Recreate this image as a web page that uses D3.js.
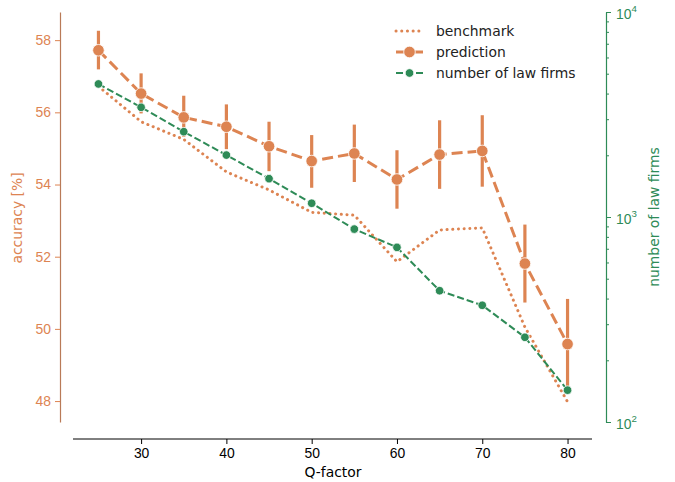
<!DOCTYPE html>
<html lang="en">
<head>
<meta charset="UTF-8">
<title>Accuracy vs Q-factor</title>
<script src="https://d3js.org/d3.v7.min.js"></script>
<style>
  body { margin: 0; background: #fff; }
  svg { font-family: 'DejaVu Sans', sans-serif; }
  .axis text { font-size: 13.9px; }
</style>
</head>
<body>
<script>
const qFactor = [25, 30, 35, 40, 45, 50, 55, 60, 65, 70, 75, 80];
const benchmark = [56.72, 55.74, 55.25, 54.35, 53.85, 53.23, 53.15, 51.86, 52.74, 52.80, 50.05, 47.98];
const prediction = [57.72, 56.52, 55.86, 55.60, 55.06, 54.65, 54.86, 54.14, 54.83, 54.93, 51.81, 49.58];
const predLow = [57.19, 55.97, 55.32, 54.98, 54.37, 53.91, 54.07, 53.33, 53.88, 53.94, 50.73, 48.35];
const predHigh = [58.26, 57.08, 56.46, 56.22, 55.74, 55.37, 55.66, 54.95, 55.78, 55.92, 52.89, 50.83];
const lawFirms = [4457, 3428, 2607, 2005, 1538, 1167, 873, 711, 437, 371, 259, 143];
const xTicks = [30, 40, 50, 60, 70, 80];
const yTicks = [48, 50, 52, 54, 56, 58];

const orange = "#dd8452";
const green = "#2e8b57";

const W = 675, H = 482;
const svg = d3.select("body").append("svg").attr("width", W).attr("height", H);

const x = d3.scaleLinear().domain([22.25, 82.75]).range([75, 591]);
const yL = d3.scaleLinear().domain([47.42, 58.78]).range([422, 12]);
const yR = d3.scaleLog().domain([100, 10000]).range([422, 12]);

// x axis (offset below the plot)
const xAxis = svg.append("g").attr("class", "axis")
    .attr("transform", "translate(0,439)")
    .call(d3.axisBottom(x).tickValues(xTicks).tickSize(5).tickSizeOuter(0).tickPadding(4));
xAxis.select(".domain").attr("d", "M73,0H592").attr("stroke", "#000");
xAxis.selectAll("text").attr("fill", "#000");

svg.append("text").attr("x", 333).attr("y", 477).attr("text-anchor", "middle")
    .attr("font-size", 13.9).attr("fill", "#000").text("Q-factor");

// left axis
const leftAxis = svg.append("g").attr("class", "axis")
    .attr("transform", "translate(60,0)")
    .call(d3.axisLeft(yL).tickValues(yTicks).tickSize(5).tickSizeOuter(0).tickPadding(4));
leftAxis.select(".domain").attr("stroke", "#b97a57").attr("stroke-width", 1.2);
leftAxis.selectAll(".tick line").attr("stroke", orange);
leftAxis.selectAll("text").attr("fill", orange);

svg.append("text").attr("transform", "translate(22,218) rotate(-90)")
    .attr("text-anchor", "middle").attr("font-size", 13.9).attr("fill", orange)
    .text("accuracy [%]");

// right axis (log)
const minor = [];
[100, 1000].forEach(b => { for (let k = 2; k <= 9; k++) minor.push(b * k); });
const rightAxis = svg.append("g").attr("class", "axis")
    .attr("transform", "translate(606,0)")
    .call(d3.axisRight(yR).tickValues([100, 1000, 10000].concat(minor)).tickSize(5).tickSizeOuter(0).tickPadding(4).tickFormat(""));
rightAxis.select(".domain").attr("stroke", green).attr("stroke-width", 1.2);
rightAxis.selectAll(".tick line").attr("stroke", green)
    .attr("x2", d => [100, 1000, 10000].includes(d) ? 5 : 3);
rightAxis.selectAll(".tick").filter(d => [100, 1000, 10000].includes(d))
    .append("text")
    .attr("x", 10).attr("dy", "0.45em").attr("fill", green).attr("text-anchor", "start")
    .each(function(d) {
      const t = d3.select(this);
      t.append("tspan").text("10");
      t.append("tspan").attr("font-size", 9.7).attr("dy", -7).text(Math.round(Math.log10(d)));
    });

svg.append("text").attr("transform", "translate(659,217) rotate(-90)")
    .attr("text-anchor", "middle").attr("font-size", 13.9).attr("fill", green)
    .text("number of law firms");

const pts = qFactor.map((q, i) => ({ q, b: benchmark[i], p: prediction[i], lo: predLow[i], hi: predHigh[i], n: lawFirms[i] }));

// benchmark
svg.append("path").datum(pts)
    .attr("d", d3.line().x(d => x(d.q)).y(d => yL(d.b)))
    .attr("fill", "none").attr("stroke", orange).attr("stroke-width", 3)
    .attr("stroke-dasharray", "0.1 5.6").attr("stroke-linecap", "round");

// prediction error bars
svg.selectAll(".err").data(pts).enter().append("line")
    .attr("x1", d => x(d.q)).attr("x2", d => x(d.q))
    .attr("y1", d => yL(d.lo)).attr("y2", d => yL(d.hi))
    .attr("stroke", orange).attr("stroke-width", 3.2);

svg.append("path").datum(pts)
    .attr("d", d3.line().x(d => x(d.q)).y(d => yL(d.p)))
    .attr("fill", "none").attr("stroke", orange).attr("stroke-width", 3)
    .attr("stroke-dasharray", "11 5");

svg.selectAll(".pdot").data(pts).enter().append("circle")
    .attr("cx", d => x(d.q)).attr("cy", d => yL(d.p)).attr("r", 5.8)
    .attr("fill", orange).attr("stroke", "#fff").attr("stroke-width", 0.8);

// law firms
svg.append("path").datum(pts)
    .attr("d", d3.line().x(d => x(d.q)).y(d => yR(d.n)))
    .attr("fill", "none").attr("stroke", green).attr("stroke-width", 2)
    .attr("stroke-dasharray", "7 3");

svg.selectAll(".gdot").data(pts).enter().append("circle")
    .attr("cx", d => x(d.q)).attr("cy", d => yR(d.n)).attr("r", 4.3)
    .attr("fill", green).attr("stroke", "#fff").attr("stroke-width", 0.8);

// legend
const legend = [
  { label: "benchmark", y: 31, kind: "b" },
  { label: "prediction", y: 52, kind: "p" },
  { label: "number of law firms", y: 73, kind: "g" }
];
const lg = svg.append("g");
legend.forEach(l => {
  const line = lg.append("line").attr("x1", 396).attr("x2", 423).attr("y1", l.y).attr("y2", l.y);
  if (l.kind === "b") {
    line.attr("stroke", orange).attr("stroke-width", 3).attr("stroke-dasharray", "0.1 5.6").attr("stroke-linecap", "round");
  } else if (l.kind === "p") {
    line.attr("stroke", orange).attr("stroke-width", 3);
    lg.append("circle").attr("cx", 409.5).attr("cy", l.y).attr("r", 5.8).attr("fill", orange).attr("stroke", "#fff").attr("stroke-width", 0.8);
  } else {
    line.attr("stroke", green).attr("stroke-width", 2).attr("stroke-dasharray", "7 3");
    lg.append("circle").attr("cx", 409.5).attr("cy", l.y).attr("r", 4.3).attr("fill", green).attr("stroke", "#fff").attr("stroke-width", 0.8);
  }
  lg.append("text").attr("x", 436).attr("y", l.y).attr("dy", "0.35em")
    .attr("font-size", 13.9).attr("fill", "#222").text(l.label);
});
</script>
</body>
</html>
